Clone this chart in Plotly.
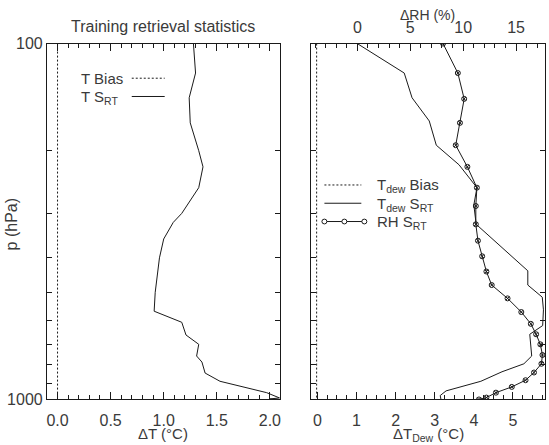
import plotly.graph_objects as go

# ---------------- data ----------------
# Left panel: temperature statistics
t_p = [100, 121, 142, 167, 200, 222, 254, 300, 318, 354, 400, 500, 565, 607, 659,
       700, 755, 785, 843, 889, 957, 990, 997, 1000]
t_srt = [1.28, 1.30, 1.24, 1.25, 1.33, 1.37, 1.33, 1.17, 1.09, 1.00, 0.96, 0.92, 0.91,
         1.17, 1.21, 1.33, 1.31, 1.36, 1.39, 1.53, 1.97, 2.09, 2.00, 2.09]
bias_p = [100, 200, 300, 400, 500, 600, 700, 800, 900, 1000]
t_bias = [0.0, 0.0, 0.0, 0.0, 0.0, 0.0, 0.0, 0.0, 0.0, 0.0]

# Right panel: dew point / RH statistics
td_p = [100, 121, 142, 165, 193, 219, 254, 284, 322, 435, 477, 516, 560, 620, 656,
        755, 794, 836, 889, 946, 975, 1000]
td_srt = [1.02, 2.22, 2.42, 2.86, 3.04, 3.62, 4.08, 4.00, 4.06, 5.38, 5.38, 5.75, 5.78,
          5.76, 5.43, 5.48, 5.28, 4.72, 4.18, 3.29, 3.14, 3.16]
td_bias = [-0.02, -0.02, -0.02, -0.02, -0.02, -0.02, -0.02, -0.02, -0.02, -0.02]

rh_p = [100, 121, 143, 167, 193, 222, 254, 286, 322, 358, 396, 437, 477, 520, 568,
        613, 656, 700, 750, 794, 840, 883, 922, 957, 988, 1000]
rh_srt = [8.1, 9.5, 10.1, 9.7, 9.3, 10.4, 11.3, 11.2, 11.2, 11.4, 11.8, 12.2, 12.7,
          14.2, 15.5, 16.4, 16.9, 17.3, 17.5, 17.4, 16.7, 15.9, 14.6, 13.1, 12.2, 11.5]

# tick definitions
p_ticks = [100, 200, 300, 400, 500, 600, 700, 800, 900, 1000]
p_ticktext = ["100", "", "", "", "", "", "", "", "", "1000"]
t_major = [0.0, 0.5, 1.0, 1.5, 2.0]
t_minor = [i / 10 for i in range(0, 22)]
td_major = [0, 1, 2, 3, 4, 5]
td_minor = [i / 4 for i in range(0, 24)]
rh_major = [0, 5, 10, 15]
rh_minor = list(range(-4, 18))

# ---------------- layout helpers ----------------
W, H = 549, 445
def px(x):
    return x / W
def py(y):
    return 1 - y / H

LINE = "#1a1a1a"
TXT = "#3a3a3a"
FONT = "Liberation Sans"

def labels(vals, majors, fmt):
    return [fmt(v) if any(abs(v - m) < 1e-9 for m in majors) else "" for v in vals]

fig = go.Figure()
fig.add_trace(go.Scatter(x=t_bias, y=bias_p, mode="lines", xaxis="x", yaxis="y",
                         line=dict(color=LINE, width=1, dash="2px,2px")))
fig.add_trace(go.Scatter(x=t_srt, y=t_p, mode="lines", xaxis="x", yaxis="y",
                         line=dict(color=LINE, width=1)))
fig.add_trace(go.Scatter(x=td_bias, y=bias_p, mode="lines", xaxis="x2", yaxis="y2",
                         line=dict(color=LINE, width=1, dash="2px,2px")))
fig.add_trace(go.Scatter(x=td_srt, y=td_p, mode="lines", xaxis="x2", yaxis="y2",
                         line=dict(color=LINE, width=1)))
fig.add_trace(go.Scatter(x=rh_srt, y=rh_p, mode="lines+markers", xaxis="x3", yaxis="y2",
                         line=dict(color=LINE, width=1),
                         marker=dict(symbol="circle-x-open", size=5,
                                     color=LINE, line=dict(width=1, color=LINE))))
# empty traces so the overlay (long major tick) axes are created
for xa, ya in (("x4", "y"), ("x5", "y2"), ("x6", "y2")):
    fig.add_trace(go.Scatter(x=[], y=[], xaxis=xa, yaxis=ya, hoverinfo="skip"))

ydom = [py(407), py(37)]
axcommon = dict(showline=True, linecolor=LINE, linewidth=1, showgrid=False,
                zeroline=False, ticks="inside", tickcolor=LINE,
                tickfont=dict(family=FONT, size=16, color=TXT))
overlay = dict(showline=False, showgrid=False, zeroline=False, ticks="inside",
               tickcolor=LINE, ticklen=7, showticklabels=False, tickmode="array")

T_RANGE = [-0.1, 2.1]
TD_RANGE = [-0.153, 5.82]
RH_RANGE = [-4.34, 17.74]

fig.update_layout(
    width=W, height=H, margin=dict(l=0, r=0, t=0, b=0),
    paper_bgcolor="white", plot_bgcolor="white", showlegend=False,
    xaxis=dict(domain=[px(47), px(281)], range=T_RANGE, anchor="y",
               tickmode="array", tickvals=t_minor,
               ticktext=labels(t_minor, t_major, lambda v: f"{v:.1f}"),
               ticklen=4, mirror="ticks", ticklabelstandoff=6, **axcommon),
    xaxis4=dict(overlaying="x", anchor="y", range=T_RANGE, side="bottom",
                tickvals=t_major, mirror="ticks", **overlay),
    yaxis=dict(domain=ydom, type="log", range=[3, 2], anchor="x",
               tickmode="array", tickvals=p_ticks, ticktext=p_ticktext, ticklen=5,
               mirror="ticks", **axcommon),
    xaxis2=dict(domain=[px(312), px(546)], range=TD_RANGE, anchor="y2",
                tickmode="array", tickvals=td_minor,
                ticktext=labels(td_minor, td_major, lambda v: f"{v:.0f}"),
                ticklen=4, mirror=True, ticklabelstandoff=6, **axcommon),
    xaxis5=dict(overlaying="x2", anchor="y2", range=TD_RANGE, side="bottom",
                tickvals=td_major, **overlay),
    xaxis3=dict(overlaying="x2", side="top", anchor="y2", range=RH_RANGE,
                tickmode="array", tickvals=rh_minor,
                ticktext=labels(rh_minor, rh_major, lambda v: f"{v:.0f}"),
                ticklen=4, ticklabelstandoff=3, **axcommon),
    xaxis6=dict(overlaying="x2", anchor="y2", range=RH_RANGE, side="top",
                tickvals=rh_major, **overlay),
    yaxis2=dict(domain=ydom, type="log", range=[3, 2], anchor="x2",
                tickmode="array", tickvals=p_ticks, ticklen=5, showticklabels=False,
                mirror="ticks", **axcommon),
)

def ann(text, x, y, size=15, angle=0, xanchor="center", yanchor="middle"):
    fig.add_annotation(text=text, x=px(x), y=py(y), xref="paper", yref="paper",
                       showarrow=False, textangle=angle, xanchor=xanchor,
                       yanchor=yanchor,
                       font=dict(family=FONT, size=size, color=TXT))

ann("Training retrieval statistics", 163, 19, size=16)
ann("p (hPa)", 11, 225, size=16, angle=-90)
ann("ΔT (°C)", 163, 431, yanchor="top")
ann("ΔT<sub>Dew</sub> (°C)", 429, 431, yanchor="top")
ann("ΔRH (%)", 428, 7, size=14)

# Left legend
ann("T Bias", 79, 73, xanchor="left")
ann("T S<sub>RT</sub>", 79, 93, xanchor="left")
# Right legend
ann("T<sub>dew</sub> Bias", 376, 185, xanchor="left")
ann("T<sub>dew</sub> S<sub>RT</sub>", 376, 204, xanchor="left")
ann("RH S<sub>RT</sub>", 376, 223, xanchor="left")

def hline(x0, x1, y, dash=None):
    fig.add_shape(type="line", xref="paper", yref="paper",
                  x0=px(x0), x1=px(x1), y0=py(y), y1=py(y),
                  line=dict(color=LINE, width=1, dash=dash))

hline(132, 165, 73, dash="2px,2px")
hline(132, 165, 92)
hline(325, 362, 184, dash="2px,2px")
hline(325, 362, 203)
hline(325, 365, 222)
for cx in (325, 345, 365):
    r = 2.5
    fig.add_shape(type="circle", xref="paper", yref="paper",
                  x0=px(cx - r), x1=px(cx + r), y0=py(222 + r), y1=py(222 - r),
                  line=dict(color=LINE, width=1), fillcolor="white")

fig.write_html("out.html")
